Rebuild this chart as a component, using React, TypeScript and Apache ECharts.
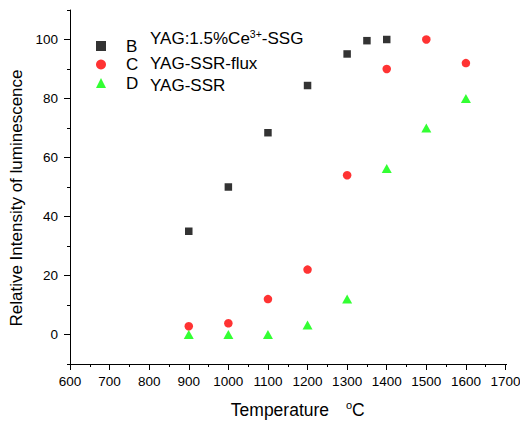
import React, { useEffect, useRef, useState } from "react";
import * as echarts from "echarts";

const temperaturesB = [900, 1000, 1100, 1200, 1300, 1350, 1400];
const intensityB = [35, 50, 68.4, 84.4, 95.1, 99.6, 100];
const temperaturesC = [900, 1000, 1100, 1200, 1300, 1400, 1500, 1600];
const intensityC = [2.8, 3.8, 12, 22, 54, 90, 100, 92];
const temperaturesD = [900, 1000, 1100, 1200, 1300, 1400, 1500, 1600];
const intensityD = [0, 0, 0, 3.2, 12, 56.3, 70, 80];

const seriesNames = ["B", "C", "D"];
const xRange = [600, 1700];
const yRange = [-10, 110];
const yMajorTicks = [0, 20, 40, 60, 80, 100];
const yMinorTicks = [-10, 10, 30, 50, 70, 90, 110];

const FONT = "Liberation Sans, Arial, sans-serif";

const pair = (xs: number[], ys: number[]) => xs.map((x, i) => [x, ys[i]]);

type Spines = { ox: number; oy: number; ex: number; ey: number } | null;

export default function App() {
  const ref = useRef<HTMLDivElement>(null);
  const [spines, setSpines] = useState<Spines>(null);
  useEffect(() => {
    if (!ref.current) return;
    const chart = echarts.init(ref.current, undefined, { renderer: "svg" });
    chart.setOption({
      animation: false,
      backgroundColor: "#fff",
      textStyle: { fontFamily: FONT },
      grid: { left: 70, right: 14.5, top: 10, bottom: 57, containLabel: false, outerBoundsMode: "none" },
      legend: {
        orient: "vertical",
        left: 91,
        top: 32.5,
        itemWidth: 10,
        itemHeight: 10,
        itemGap: 1.5,
        data: seriesNames,
        textStyle: { fontFamily: FONT, fontSize: 17, color: "#000", lineHeight: 17, padding: [0, 0, 0, 15] },
      },
      xAxis: {
        type: "value",
        min: xRange[0],
        max: xRange[1],
        interval: 100,
        axisLine: { show: true, onZero: false, lineStyle: { color: "#000", width: 1 } },
        axisTick: { show: true, length: 6, lineStyle: { color: "#000", width: 1 } },
        minorTick: { show: true, splitNumber: 2, length: 3, lineStyle: { color: "#000", width: 1 } },
        splitLine: { show: false },
        minorSplitLine: { show: false },
        axisLabel: { color: "#000", fontSize: 13.5, margin: 10, fontFamily: FONT, formatter: (v: number) => String(v) },
        name: "Temperature {s|o}C",
        nameLocation: "middle",
        nameGap: 35,
        nameTextStyle: {
          color: "#000",
          fontSize: 17.5,
          fontFamily: FONT,
          padding: [0, 0, 0, 20],
          rich: { s: { fontSize: 11, color: "#000", fontFamily: FONT, padding: [0, 0, 10, 12] } },
        },
      },
      yAxis: [
        {
          type: "value",
          min: yRange[0],
          max: yRange[1],
          position: "left",
          axisLine: { show: true, onZero: false, lineStyle: { color: "#000", width: 1 } },
          axisTick: { show: true, length: 6, customValues: yMajorTicks, lineStyle: { color: "#000", width: 1 } },
          splitLine: { show: false },
          axisLabel: {
            color: "#000",
            fontSize: 13.5,
            margin: 12,
            fontFamily: FONT,
            customValues: yMajorTicks,
            formatter: (v: number) => String(v),
          },
          name: "Relative Intensity of luminescence",
          nameLocation: "middle",
          nameGap: 41,
          nameTextStyle: { color: "#000", fontSize: 17, fontFamily: FONT, padding: [0, 22, 0, 0] },
        },
        {
          type: "value",
          min: yRange[0],
          max: yRange[1],
          position: "left",
          axisLine: { show: false, onZero: false },
          axisTick: { show: true, length: 3, customValues: yMinorTicks, lineStyle: { color: "#000", width: 1 } },
          axisLabel: { show: false },
          splitLine: { show: false },
        },
      ],
      graphic: [
        {
          id: "desc1",
          type: "text",
          left: 150,
          top: 28,
          style: {
            text: "{n|YAG:1.5%Ce}{s|3+}{n|-SSG}",
            rich: {
              n: { fontSize: 17, fontFamily: FONT, fill: "#000", color: "#000" },
              s: { fontSize: 10.5, fontFamily: FONT, fill: "#000", color: "#000", padding: [0, 0, 10, 0] },
            },
          },
        },
        { id: "desc2", type: "text", left: 150, top: 55, style: { text: "YAG-SSR-flux", fontSize: 17, fontFamily: FONT, fill: "#000" } },
        { id: "desc3", type: "text", left: 150, top: 77, style: { text: "YAG-SSR", fontSize: 17, fontFamily: FONT, fill: "#000" } },
      ],
      series: [
        {
          name: seriesNames[0],
          type: "scatter",
          symbol: "rect",
          symbolSize: 7.5,
          itemStyle: { color: "#000" },
          data: pair(temperaturesB, intensityB),
        },
        {
          name: seriesNames[1],
          type: "scatter",
          symbol: "circle",
          symbolSize: 8.5,
          itemStyle: { color: "#ff0000" },
          data: pair(temperaturesC, intensityC),
        },
        {
          name: seriesNames[2],
          type: "scatter",
          symbol: "triangle",
          symbolSize: [10, 9],
          itemStyle: { color: "#00ff00" },
          data: pair(temperaturesD, intensityD),
        },
      ],
    });
    // Spine positions read back from the library's own scales
    const finder = { xAxisIndex: 0, yAxisIndex: 0 };
    const o = chart.convertToPixel(finder, [xRange[0], yRange[0]]) as number[];
    const xe = chart.convertToPixel(finder, [xRange[1], yRange[0]]) as number[];
    const ye = chart.convertToPixel(finder, [xRange[0], yRange[1]]) as number[];
    if (o && xe && ye) {
      setSpines({ ox: Math.round(o[0]), oy: Math.round(o[1]), ex: Math.round(xe[0]), ey: Math.round(ye[1]) });
    }
    return () => chart.dispose();
  }, []);
  return (
    <>
      <div
        ref={ref}
        style={{ position: "absolute", left: 0, top: 0, width: 520, height: 421, background: "#fff" }}
      />
      {spines && (
        <>
          <div
            style={{
              position: "absolute",
              left: spines.ox,
              top: spines.ey,
              width: 1,
              height: spines.oy - spines.ey + 1,
              background: "#000",
              pointerEvents: "none",
            }}
          />
          <div
            style={{
              position: "absolute",
              left: spines.ox,
              top: spines.oy,
              width: spines.ex - spines.ox + 1,
              height: 1,
              background: "#000",
              pointerEvents: "none",
            }}
          />
        </>
      )}
    </>
  );
}
